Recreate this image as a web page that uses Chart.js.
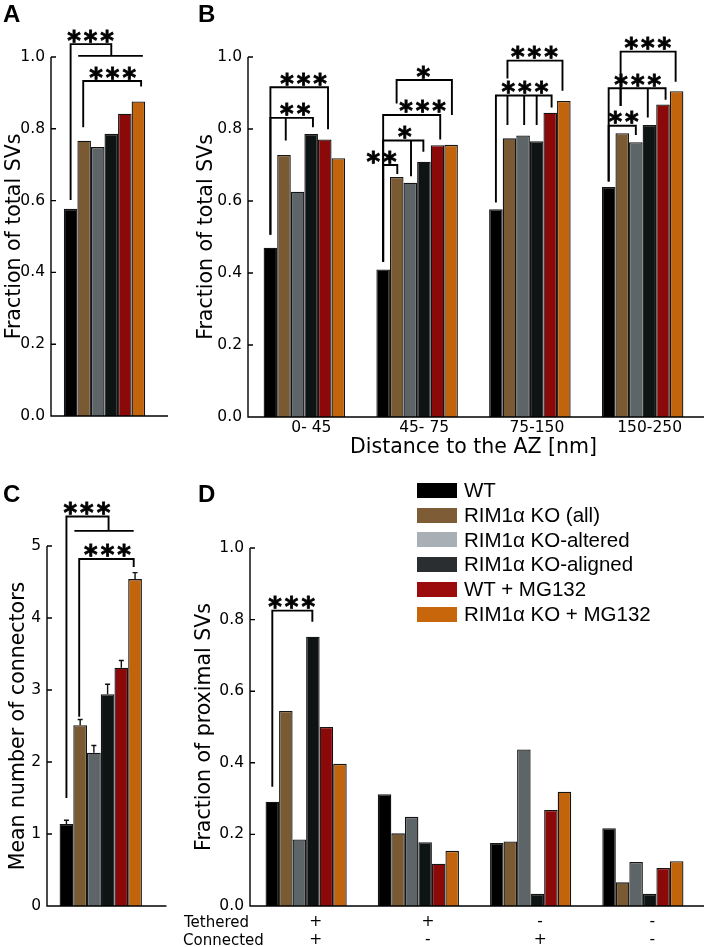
<!DOCTYPE html>
<html><head><meta charset="utf-8">
<script src="https://cdn.jsdelivr.net/npm/chart.js@4.4.1/dist/chart.umd.min.js"></script>
<style>
html,body{margin:0;padding:0;background:#fff;}
body{width:705px;height:947px;position:relative;overflow:hidden;font-family:"DejaVu Sans",sans-serif;}
canvas{position:absolute;display:block;}
.letter{position:absolute;font:bold 24px "Liberation Sans",Arial,sans-serif;line-height:24px;color:#000;}
.rowlab{position:absolute;font:15px "DejaVu Sans",sans-serif;line-height:18px;color:#000;}
#legend{position:absolute;left:417px;top:478px;}
.lrow{display:flex;align-items:center;height:24.8px;}
.sw{width:40px;height:15px;margin-right:7px;}
.lt{font:20.5px "Liberation Sans",Arial,sans-serif;line-height:24.8px;color:#000;white-space:nowrap;}
</style></head>
<body>
<canvas id="cA" width="175" height="460" style="left:0;top:0"></canvas>
<canvas id="cB" width="530" height="470" style="left:175px;top:0"></canvas>
<canvas id="cC" width="175" height="487" style="left:0;top:460px"></canvas>
<canvas id="cD" width="530" height="487" style="left:175px;top:460px"></canvas>
<div class="letter" style="left:3px;top:2px">A</div>
<div class="letter" style="left:198px;top:2px">B</div>
<div class="letter" style="left:3px;top:482px">C</div>
<div class="letter" style="left:198px;top:482px">D</div>
<div class="rowlab" style="left:184px;top:913px">Tethered</div>
<div class="rowlab" style="left:183px;top:931px">Connected</div>
<div id="legend"></div>
<script>
// ---------- data ----------
const groupNames = ['WT', 'RIM1α KO (all)', 'RIM1α KO-altered', 'RIM1α KO-aligned', 'WT + MG132', 'RIM1α KO + MG132'];
const barColors = ['#000000', '#7a5a32', '#5e6569', '#0e1314', '#8b0909', '#c1640b'];
const legendColors = ['#000000', '#7d5c36', '#a8b0b5', '#2a2e30', '#9c0c0c', '#c8660c'];

// A: fraction of total SVs (all distances)
const fracTotalA = [0.577, 0.767, 0.749, 0.786, 0.842, 0.876];

// B: fraction of total SVs per distance bin
const distanceBins = ['0- 45', '45- 75', '75-150', '150-250'];
const wtB     = [0.470, 0.410, 0.577, 0.639];
const koB     = [0.728, 0.667, 0.774, 0.788];
const alteredB = [0.626, 0.651, 0.782, 0.763];
const alignedB = [0.786, 0.709, 0.766, 0.811];
const wtMgB   = [0.771, 0.755, 0.845, 0.868];
const koMgB   = [0.719, 0.756, 0.878, 0.905];

// C: mean number of connectors (+ error)
const connectorsMean = [1.14, 2.51, 2.13, 2.94, 3.31, 4.54];
const connectorsErr  = [0.05, 0.08, 0.10, 0.14, 0.10, 0.09];

// D: fraction of proximal SVs per tethered/connected class
const tetheredLabels  = ['+', '+', '-', '-'];
const connectedLabels = ['+', '-', '+', '-'];
const wtD      = [0.291, 0.312, 0.176, 0.217];
const koD      = [0.545, 0.203, 0.180, 0.066];
const alteredD = [0.186, 0.249, 0.437, 0.123];
const alignedD = [0.752, 0.178, 0.034, 0.034];
const wtMgD    = [0.500, 0.118, 0.268, 0.106];
const koMgD    = [0.397, 0.154, 0.319, 0.125];

// significance brackets (x in bar slots from the WT bar of category, y in data units)
const bracketsA = [
  {cat:0, y:1.036, x1:0, x2:3.0, b1:0.602, b2:1.003, label:'***', lx:1.47},
  {cat:0, y:1.003, x1:0.56, x2:5.33},
  {cat:0, y:0.933, x1:0.93, x2:5.2, b1:0.804, b2:0.918, label:'***', lx:3.1}
];
const bracketsB = [
  {cat:0, y:0.916, x1:0, x2:4.24, b1:0.506, b2:0.799, label:'***', lx:2.44},
  {cat:0, y:0.831, x1:0, x2:3.13, b1:0.506, b2:0.805, mids:[[1.13,0.768]], label:'**', lx:1.82},
  {cat:1, y:0.839, x1:0, x2:4.2, b1:0.431, b2:0.771, label:'***', lx:2.9},
  {cat:1, y:0.768, x1:0, x2:2.96, b1:0.431, b2:0.737, mids:[[2.05,0.669]], label:'*', lx:1.6},
  {cat:1, y:0.700, x1:0, x2:1.04, b1:0.431, b2:0.675, label:'**', lx:-0.12},
  {cat:1, y:0.936, x1:0.99, x2:5.06, b1:0.871, b2:0.839, label:'*', lx:2.96},
  {cat:2, y:0.893, x1:0, x2:4.1, b1:0.596, b2:0.86, mids:[[0.85,0.811],[2.08,0.811],[3.0,0.811]], label:'***', lx:2.13},
  {cat:2, y:0.990, x1:0.85, x2:4.9, b1:0.94, b2:0.906, label:'***', lx:2.83},
  {cat:3, y:0.913, x1:0, x2:4.19, b1:0.654, b2:0.881, mids:[[0.88,0.864],[2.88,0.832]], label:'***', lx:2.14},
  {cat:3, y:0.809, x1:0, x2:2.0, b1:0.654, b2:0.783, label:'**', lx:1.1},
  {cat:3, y:1.015, x1:0.88, x2:4.93, b1:0.864, b2:0.931, label:'***', lx:2.88}
];
const bracketsC = [
  {cat:0, y:5.41, x1:0, x2:3.07, b1:1.5, b2:5.21, label:'***', lx:1.49},
  {cat:0, y:5.21, x1:0.58, x2:4.9},
  {cat:0, y:4.82, x1:0.93, x2:4.9, b1:2.63, b2:4.71, label:'***', lx:2.99}
];
const bracketsD = [
  {cat:0, y:0.825, x1:0, x2:2.96, b1:0.333, b2:0.794, label:'***', lx:1.43}
];

// ---------- plugins ----------
const STAR_SPACING = 3;
const bracketPlugin = {
  id: 'brackets',
  afterDraw(chart, args, opts) {
    const items = opts.items || [];
    const ctx = chart.ctx, ys = chart.scales.y;
    const sx = (cat, s) => { const el = chart.getDatasetMeta(0).data[cat]; return el.x + s * el.width; };
    ctx.save();
    ctx.strokeStyle = '#000'; ctx.fillStyle = '#000'; ctx.lineWidth = 1.9;
    items.forEach(b => {
      const yT = ys.getPixelForValue(b.y);
      const xa = sx(b.cat, b.x1), xb = sx(b.cat, b.x2);
      ctx.lineWidth = 1.9;
      ctx.beginPath();
      if (b.b1 != null) { ctx.moveTo(xa, ys.getPixelForValue(b.b1)); ctx.lineTo(xa, yT); } else ctx.moveTo(xa, yT);
      ctx.lineTo(xb, yT);
      if (b.b2 != null) ctx.lineTo(xb, ys.getPixelForValue(b.b2));
      (b.mids || []).forEach(m => { const xm = sx(b.cat, m[0]); ctx.moveTo(xm, yT); ctx.lineTo(xm, ys.getPixelForValue(m[1])); });
      ctx.stroke();
      if (b.label) {
        ctx.font = 'bold 26px "DejaVu Sans"';
        ctx.letterSpacing = STAR_SPACING + 'px';
        ctx.textAlign = 'center'; ctx.textBaseline = 'alphabetic';
        const tx = sx(b.cat, b.lx) + STAR_SPACING / 2, ty = yT - 9 + 14.5;
        ctx.fillText(b.label, tx, ty);
        ctx.lineWidth = 0.8; ctx.strokeText(b.label, tx, ty);
        ctx.letterSpacing = '0px';
      }
    });
    ctx.restore();
  }
};
const axisPlugin = {
  id: 'axisExtras',
  afterDraw(chart, args, opts) {
    const ctx = chart.ctx, a = chart.chartArea, ys = chart.scales.y;
    ctx.save(); ctx.strokeStyle = '#000'; ctx.lineWidth = 1.4;
    ctx.beginPath();
    ctx.moveTo(a.left, a.top); ctx.lineTo(a.left, a.bottom); ctx.lineTo(a.right + (opts.extend || 0), a.bottom);
    ys.ticks.forEach(t => { const y = ys.getPixelForValue(t.value); ctx.moveTo(a.left, y); ctx.lineTo(a.left + 5, y); });
    ctx.stroke(); ctx.restore();
  }
};
const errorPlugin = {
  id: 'errorBars',
  afterDatasetsDraw(chart, args, opts) {
    if (!opts.values) return;
    const ctx = chart.ctx, ys = chart.scales.y;
    ctx.save(); ctx.strokeStyle = '#111'; ctx.lineWidth = 1.4;
    opts.values.forEach((v, i) => {
      const el = chart.getDatasetMeta(i).data[0];
      const y0 = ys.getPixelForValue(v), y1 = ys.getPixelForValue(v + opts.errors[i]);
      ctx.beginPath(); ctx.moveTo(el.x, y0); ctx.lineTo(el.x, y1);
      ctx.moveTo(el.x - 2.5, y1); ctx.lineTo(el.x + 2.5, y1); ctx.stroke();
    });
    ctx.restore();
  }
};
Chart.register(bracketPlugin, axisPlugin, errorPlugin);
Chart.defaults.font.family = '"DejaVu Sans"';
Chart.defaults.color = '#000';

// ---------- helpers ----------
function makeDatasets(seriesList) {
  return seriesList.map((vals, i) => ({
    label: groupNames[i], data: vals, backgroundColor: barColors[i],
    borderColor: '#141414', borderWidth: 1.3, barPercentage: 1
  }));
}
function yScale(max, step, decimals, title, width, titlePad) {
  return {
    min: 0, max: max,
    ticks: { stepSize: step, padding: 6, font: { size: 15.5 }, color: '#000',
      callback: v => Number(v).toFixed(decimals) },
    grid: { display: false, drawTicks: false }, border: { display: false },
    title: { display: true, text: title, color: '#000', font: { size: 20.5 }, padding: { top: titlePad, bottom: 0 } },
    afterFit(s) { s.width = width; }
  };
}
function xScale(height, opts) {
  return Object.assign({
    grid: { display: false, drawTicks: false }, border: { display: false },
    ticks: { display: false },
    afterFit(s) { s.height = height; }
  }, opts || {});
}
function makeChart(id, cfg) {
  return new Chart(document.getElementById(id), {
    type: 'bar',
    data: { labels: cfg.labels, datasets: cfg.datasets },
    options: {
      responsive: false, animation: false, devicePixelRatio: 1,
      layout: { padding: { top: cfg.padTop, right: cfg.padRight, bottom: 0, left: 0 } },
      datasets: { bar: { categoryPercentage: cfg.catPct, barPercentage: 1 } },
      plugins: { legend: { display: false }, tooltip: { enabled: false },
        brackets: { items: cfg.brackets }, axisExtras: { extend: cfg.extend },
        errorBars: cfg.errors || {} },
      scales: { x: cfg.x, y: cfg.y }
    }
  });
}

// ---------- A ----------
makeChart('cA', {
  labels: [''],
  datasets: makeDatasets(fracTotalA.map(v => [v])),
  padTop: 57, padRight: 17, catPct: 0.76, extend: 10,
  brackets: bracketsA,
  x: xScale(44),
  y: yScale(1.0, 0.2, 1, 'Fraction of total SVs', 51, 2)
});

// ---------- B ----------
makeChart('cB', {
  labels: distanceBins,
  datasets: makeDatasets([wtB, koB, alteredB, alignedB, wtMgB, koMgB]),
  padTop: 57, padRight: 6, catPct: 0.723, extend: 5,
  brackets: bracketsB,
  x: xScale(53, {
    ticks: { display: true, padding: 2, labelOffset: 7, font: { size: 15.5 }, color: '#000', maxRotation: 0, autoSkip: false },
    title: { display: true, text: 'Distance to the AZ [nm]', color: '#000', font: { size: 20.5 }, padding: { top: 0, bottom: 10.5 } }
  }),
  y: yScale(1.0, 0.2, 1, 'Fraction of total SVs', 73, 19)
});

// ---------- C ----------
makeChart('cC', {
  labels: [''],
  datasets: makeDatasets(connectorsMean.map(v => [v])),
  padTop: 86, padRight: 20.5, catPct: 0.766, extend: 12,
  brackets: bracketsC,
  errors: { values: connectorsMean, errors: connectorsErr },
  x: xScale(41),
  y: yScale(5, 1, 0, 'Mean number of connectors', 47, 6.5)
});

// ---------- D ----------
makeChart('cD', {
  labels: tetheredLabels.map((t, i) => [t, connectedLabels[i]]),
  datasets: makeDatasets([wtD, koD, alteredD, alignedD, wtMgD, koMgD]),
  padTop: 88, padRight: 6, catPct: 0.723, extend: 5,
  brackets: bracketsD,
  x: xScale(41, {
    ticks: { display: true, padding: 7, labelOffset: 9.5, font: { size: 15.5, lineHeight: 1.16 }, color: '#000', maxRotation: 0, autoSkip: false }
  }),
  y: yScale(1.0, 0.2, 1, 'Fraction of proximal SVs', 75, 17.5)
});

// ---------- legend ----------
const leg = document.getElementById('legend');
groupNames.forEach((n, i) => {
  const r = document.createElement('div'); r.className = 'lrow';
  const s = document.createElement('div'); s.className = 'sw'; s.style.background = legendColors[i];
  const t = document.createElement('div'); t.className = 'lt'; t.textContent = n;
  r.appendChild(s); r.appendChild(t); leg.appendChild(r);
});
</script>
</body></html>
